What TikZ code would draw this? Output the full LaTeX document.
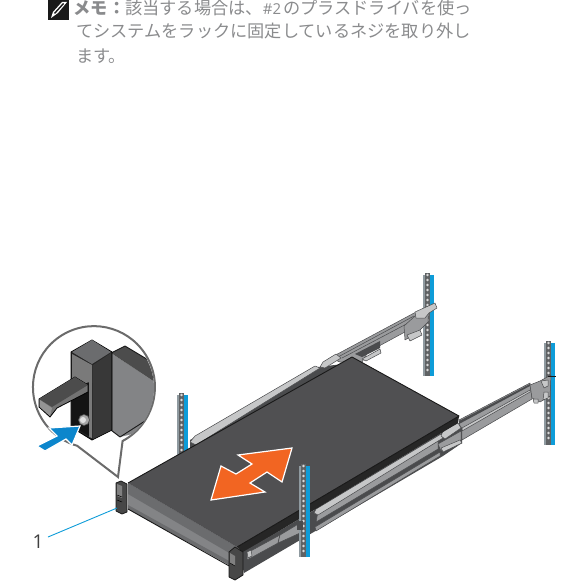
\documentclass[tikz,border=0pt]{standalone}
\usepackage{fontspec}
\newfontfamily\jp{Noto Sans CJK JP}
\setsansfont{Open Sans}
\definecolor{srvtop}{HTML}{505052}
\definecolor{srvfa}{HTML}{6B6C6E}
\definecolor{srvfb}{HTML}{838486}
\definecolor{railmid}{HTML}{9A9B9D}
\definecolor{raillight}{HTML}{C6C7C8}
\definecolor{raildark}{HTML}{4A4B4D}
\definecolor{delblue}{HTML}{0E9CD8}
\definecolor{insetblue}{HTML}{0C86CC}
\definecolor{delorange}{HTML}{F26522}
\definecolor{notegray}{HTML}{8A8B8D}
\definecolor{rackgray}{HTML}{8F9AA0}
\definecolor{holestrip}{HTML}{5F6264}
\newcommand{\rackpost}[4]{%
  \fill[rackgray] (#1,#2+2) rectangle (#1+2,#3);
  \fill[holestrip] (#1+2,#2) rectangle (#1+7,#3);
  \fill[delblue] (#1+7,#2+2) rectangle (#1+11,#3);
  \foreach \k in {1,...,#4} {\fill[white!85!black] (#1+4.5,#2+5*\k-3) circle (1.3);}
}
\tikzset{
  notetext/.style={anchor=base west,inner sep=0,text=notegray,font=\jp\fontsize{17.2}{20}\selectfont},
  rail/.style={fill=railmid,draw=raildark,line width=.5pt,line join=round},
  railhi/.style={fill=raillight,draw=raildark,line width=.5pt,line join=round},
  edgeline/.style={draw=black!90,line width=.9pt,line join=round},
  callout/.style={draw=black!58,line width=2pt,fill=white,line join=miter},
  whitearrow/.style={draw=white,line width=1.2pt,line join=miter}
}
\begin{document}
\begin{tikzpicture}[x=1pt,y=-1pt]
\useasboundingbox (0,0) rectangle (565,585);
% note
\node[notetext] (n1) at (73.5,15) {\textbf{メモ：}該当する場合は、{\fontsize{15}{15}\selectfont\sffamily\#2\kern2pt}のプラスドライバを使っ};
\node[notetext] (n2) at (76,38) {てシステムをラックに固定しているネジを取り外し};
\node[notetext] (n3) at (76,62.5) {ます。};
\fill[black!90] (48,0) rectangle (69,20);
\fill[white] (51,18) -- (53,12) -- (62,2) -- (67,2) -- (58,13) -- cycle;
\fill[black!90] (54,13) -- (63,3) -- (64,4) -- (55,14) -- cycle;
% back posts
\rackpost{423}{273}{376}{20}
\rackpost{544}{341}{445}{20}
\rackpost{177}{393}{458}{13}
% upper rail
\path[fill=raildark] (190,452) -- (190,440) -- (318,367) -- (360,362) -- cycle;
\path[rail] (330,358) -- (416,312) -- (416,326) -- (368,352) -- (362,362) -- (340,362) -- cycle;
\draw[raildark,line width=.5pt] (338,357) -- (414,316) (342,358) -- (414,320);
\path[railhi] (190,442) -- (195,436) -- (315,366) -- (320,368) -- (196,445) -- cycle;
\path[railhi] (320,367) -- (323,362) -- (336,354) -- (341,358) -- (325,368) -- cycle;
\path[fill=raildark] (355,354) -- (380,341) -- (380,348) -- (362,357) -- cycle;
\path[railhi] (362,359) -- (380,349) -- (381,353) -- (366,361) -- cycle;
% upper bracket
\path[rail] (404,326) -- (415,316) -- (428,314) -- (428,322) -- (418,332) -- (405,340) -- cycle;
\path[railhi] (407,335) -- (420,330) -- (422,335) -- (410,341) -- cycle;
\path[railhi] (415,312) -- (435,303) -- (437,308) -- (429,313) -- (425,318) -- (416,318) -- cycle;
% right rail
\path[rail] (459,420) -- (530,383) -- (532,399) -- (462,440) -- cycle;
\path[fill=raildark] (459,421) -- (530,384) -- (530,386) -- (459,424) -- cycle;
\path[railhi] (462,428) -- (530,390) -- (530,392) -- (462,431) -- cycle;
\path[rail] (530,385) -- (540,381) -- (551,375) -- (550,396) -- (540,402) -- (532,398) -- cycle;
\path[railhi] (541,381) -- (548,380) -- (548,386) -- (544,388) -- cycle;
\path[railhi] (544,392) -- (548,392) -- (548,398) -- (543,400) -- cycle;
\path[railhi] (533,399) -- (538,399) -- (538,403) -- (534,403) -- cycle;
\draw[edgeline] (548,376) -- (556,376);
% lower rail along the near side
\path[fill=raildark] (240,555) -- (458,423) -- (462,428) -- (462,443) -- (443,456) -- (244,573) -- cycle;
\path[rail] (318,512) -- (438,441) -- (438,449) -- (316,522) -- cycle;
\path[railhi] (314,513) -- (316,509) -- (441,434) -- (443,438) -- (318,515) -- cycle;
\path[rail] (438,444) -- (461,431) -- (461,440) -- (441,451) -- cycle;
\path[railhi] (441,436) -- (443,431) -- (458,423) -- (461,428) -- (445,439) -- cycle;
\path[rail] (315,527) -- (440,452) -- (440,456) -- (316,531) -- cycle;
\path[railhi] (441,448) -- (460,440) -- (462,443) -- (443,452) -- cycle;
% server
\path[fill=srvfb] (128,483) -- (237,547) -- (231,566) -- (128,509) -- cycle;
\path[fill=srvfa] (128,483) -- (237,547) -- (231,554) -- (128,494) -- cycle;
\path[fill=srvfa] (128,505) -- (231,562) -- (231,566) -- (128,509) -- cycle;
\path[fill=srvtop] (128,483) -- (352,357) -- (459,416) -- (237,547) -- cycle;
\path[fill=black!85] (237,547) -- (459,416) -- (458,423) -- (243,553) -- cycle;
\draw[edgeline] (128,483) -- (352,357) -- (459,416) -- (237,547);
\draw[edgeline] (128,509) -- (231,567);
% bracket next to the near ear
\path[fill=raildark] (243,552) -- (300,519) -- (300,537) -- (243,570) -- cycle;
\path[rail] (247,553) -- (280,535) -- (278,543) -- (247,560) -- cycle;
\path[railhi] (247,552) -- (251,550) -- (252,556) -- (248,558) -- cycle;
\path[rail] (280,535) -- (300,523) -- (300,533) -- (278,543) -- cycle;
% ears
\path[fill=black!72,draw=black!90,line width=.8pt,line join=round] (116,483) -- (121,481) -- (127,484) -- (127,512) -- (122,514) -- (116,511) -- cycle;
\path[fill=black!50] (117,484) -- (122,486) -- (122,498) -- (117,496) -- cycle;
\draw[black,line width=.5pt] (117,495) -- (122,497) (117,500) -- (122,502);
\path[fill=black!72,draw=black!90,line width=.8pt,line join=round] (229,552) -- (235,547) -- (243,552) -- (243,575) -- (235,580) -- (229,577) -- cycle;
\path[fill=black!50] (230,553) -- (235,556) -- (235,566) -- (230,563) -- cycle;
\draw[black,line width=.5pt] (230,563) -- (235,566);
% front post
\rackpost{299}{464}{557}{18}
\fill[raildark] (297,521) rectangle (303,530);
% double arrow
\path[fill=delorange,whitearrow] (292,448) -- (238,455) -- (252,464) -- (236,474) -- (221,466) -- (211,500) -- (265,492) -- (250,483) -- (267,472) -- (282,482) -- cycle;
% callout
\coordinate (tailtip) at (118,477);
\path[callout] (122.6,441) arc[start angle=62,end angle=-254,radius=61] -- (tailtip) -- cycle;
\begin{scope}
\clip (94,388) circle (60);
\path[fill=srvfb] (111,353) -- (170,392) -- (170,425) -- (120,437) -- (110,430) -- cycle;
\path[fill=black!70] (111,353) -- (125,346) -- (170,373) -- (170,392) -- cycle;
\draw[edgeline] (111,353) -- (125,346) -- (170,373);
\draw[edgeline] (111,430) -- (120,437) -- (170,405);
\end{scope}
\path[fill=black!85,draw=black,line width=.8pt,line join=round] (71,352) -- (92,340) -- (112,352) -- (112,430) -- (92,440) -- (71,427) -- cycle;
\path[fill=black!92] (72,383) -- (92,383) -- (92,438) -- (72,426) -- cycle;
\path[fill=srvfa] (72,352) -- (92,340) -- (111,352) -- (92,364) -- cycle;
\path[fill=black!78] (93,365) -- (111,353) -- (111,430) -- (93,439) -- cycle;
\path[fill=black!52] (72,354) -- (92,365) -- (92,438) -- (89,437) -- (89,382) -- (72,388) -- cycle;
\path[fill=black!55,draw=black,line width=.8pt,line join=round] (39,399) -- (75,377) -- (88,385) -- (88,392) -- (57,408) -- (50,417) -- (39,407) -- cycle;
\path[fill=black!70] (39,399) -- (75,377) -- (88,385) -- (52,407) -- cycle;
\path[fill=black!42] (40,400) -- (52,408) -- (50,416) -- (40,407) -- cycle;
\path[fill=black!35,draw=black!70,line width=.6pt] (84,420) circle (5.5);
\fill[black!12] (83,420) circle (3);
\path[fill=insetblue,whitearrow] (80,426) -- (49,428) -- (57,436) -- (37,446) -- (45,451) -- (66,439) -- (72,445) -- cycle;
% leader
\coordinate (earpoint) at (117,508);
\node[anchor=base,inner sep=0,text=black!75,font=\sffamily\fontsize{19}{20}\selectfont] (lab) at (38,548) {1};
\coordinate (labend) at (48,537);
\draw[delblue,line width=.9pt] (earpoint) -- (labend);
\end{tikzpicture}
\end{document}
